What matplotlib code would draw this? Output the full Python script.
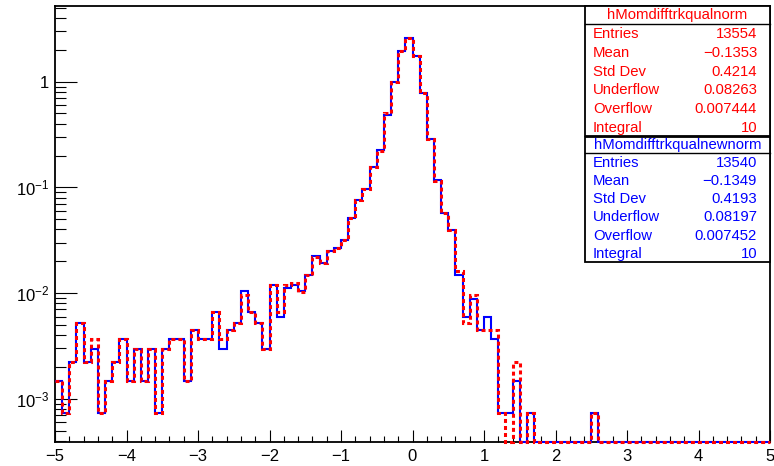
import numpy as np
import matplotlib
matplotlib.use("Agg")
import matplotlib.pyplot as plt
from matplotlib.patches import Rectangle
from matplotlib.ticker import FixedLocator, FixedFormatter, LogLocator, MultipleLocator

plt.rcParams['font.family'] = ['Liberation Sans', 'DejaVu Sans']
plt.rcParams['mathtext.fontset'] = 'custom'
plt.rcParams['mathtext.rm'] = 'Liberation Sans'
plt.rcParams['mathtext.it'] = 'Liberation Sans:italic'

# histogram binning: 100 bins from -5 to 5
x_lo, x_hi, n_bins = -5.0, 5.0, 100

# raw entries per bin (hMomdifftrkqualnorm, red)
red_counts = [
    2, 1, 3, 7, 3, 5, 1, 2, 3, 5,
    2, 4, 2, 4, 1, 4, 5, 5, 2, 6,
    5, 5, 9, 5, 6, 7, 13, 9, 7, 4,
    16, 9, 16, 17, 14, 20, 30, 26, 34, 36,
    43, 70, 102, 131, 210, 302, 690, 1350, 2620, 3500,
    2380, 1060, 385, 157, 78, 53, 22, 7, 13, 6,
    6, 6, 1, 0, 3, 0, 1, 0, 0, 0,
    0, 0, 0, 0, 0, 1, 0, 0, 0, 0,
    0, 0, 0, 0, 0, 0, 0, 0, 0, 0,
    0, 0, 0, 0, 0, 0, 0, 0, 0, 0,
]
# hMomdifftrkqualnewnorm, blue
blue_counts = [
    2, 1, 3, 7, 3, 4, 1, 2, 3, 5,
    2, 4, 2, 4, 1, 4, 5, 5, 2, 6,
    5, 5, 9, 4, 6, 7, 14, 9, 7, 4,
    16, 8, 15, 16, 14, 20, 30, 26, 34, 36,
    43, 70, 102, 131, 210, 302, 648, 1350, 2620, 3500,
    2380, 1060, 385, 157, 78, 53, 20, 8, 12, 6,
    8, 5, 1, 1, 2, 0, 1, 0, 0, 0,
    0, 0, 0, 0, 0, 1, 0, 0, 0, 0,
    0, 0, 0, 0, 0, 0, 0, 0, 0, 0,
    0, 0, 0, 0, 0, 0, 0, 0, 0, 0,
]
integral = 10.0

stat_labels = ["Entries", "Mean", "Std Dev", "Underflow", "Overflow", "Integral"]
red_name = "hMomdifftrkqualnorm"
red_stats = ["13554", "\u22120.1353", "0.4214", "0.08263", "0.007444", "10"]
blue_name = "hMomdifftrkqualnewnorm"
blue_stats = ["13540", "\u22120.1349", "0.4193", "0.08197", "0.007452", "10"]

y_ticks = [1e-3, 1e-2, 1e-1, 1]
y_ticklabels = ["$10^{-3}$", "$10^{-2}$", "$10^{-1}$", "1"]

W, H = 774, 466
ymin, ymax = 3.9e-4, 5.2


def fx(px):
    return px / W


def fy(py):
    return 1 - py / H


def main():
    fig = plt.figure(figsize=(W / 100, H / 100), dpi=100)
    ax = fig.add_axes([fx(55), fy(442), fx(770) - fx(55), fy(6) - fy(442)])

    edges = np.linspace(x_lo, x_hi, n_bins + 1)
    red = np.array(red_counts, float)
    blue = np.array(blue_counts, float)
    red = red * integral / red.sum()
    blue = blue * integral / blue.sum()
    # empty bins are drawn along the bottom of the frame, like ROOT does
    red = np.where(red > 0, red, ymin)
    blue = np.where(blue > 0, blue, ymin)

    ax.stairs(blue, edges, baseline=None, color="blue", lw=1.5, zorder=3, clip_on=False)
    ax.stairs(red, edges, baseline=None, color="red", lw=2.2,
              linestyle=(0, (1.3, 1.0)), zorder=4, clip_on=False)

    ax.set_yscale("log")
    ax.set_xlim(x_lo, x_hi)
    ax.set_ylim(ymin, ymax)

    ax.xaxis.set_major_locator(MultipleLocator(1))
    ax.xaxis.set_minor_locator(MultipleLocator(0.2))
    ax.yaxis.set_major_locator(FixedLocator(y_ticks))
    ax.yaxis.set_major_formatter(FixedFormatter(y_ticklabels))
    ax.yaxis.set_minor_locator(LogLocator(base=10, subs=np.arange(2, 10), numticks=20))
    ax.yaxis.set_minor_formatter(FixedFormatter([]))

    ax.tick_params(axis="x", which="major", direction="in", length=8.5, width=0.8,
                   labelsize=12, pad=5, top=False)
    ax.tick_params(axis="x", which="minor", direction="in", length=4, width=0.8, top=False)
    ax.tick_params(axis="y", which="major", direction="in", length=16, width=0.8,
                   labelsize=12, pad=4, right=False)
    ax.tick_params(axis="y", which="minor", direction="in", length=8, width=0.8, right=False)
    for s in ax.spines.values():
        s.set_linewidth(1.3)

    # stats boxes
    def stats_box(top, title_h, body_h, name, values, color):
        x0, x1 = 585, 770
        fig.patches.append(Rectangle((fx(x0), fy(top + title_h + body_h)), fx(x1) - fx(x0),
                                     (title_h + body_h) / H, transform=fig.transFigure,
                                     facecolor="white", edgecolor="black", lw=1.3, zorder=5))
        fig.lines.append(plt.Line2D([fx(x0), fx(x1)], [fy(top + title_h)] * 2,
                                    transform=fig.transFigure, color="black", lw=1.0, zorder=6))
        fig.text(fx((x0 + x1) / 2), fy(top + title_h / 2), name, color=color, fontsize=10.7,
                 ha="center", va="center", zorder=7)
        row_h = body_h / len(stat_labels)
        for k, (lab, val) in enumerate(zip(stat_labels, values)):
            yy = fy(top + title_h + (k + 0.55) * row_h)
            fig.text(fx(593), yy, lab, color=color, fontsize=10.7, ha="left", va="center", zorder=7)
            fig.text(fx(757), yy, val, color=color, fontsize=10.7, ha="right", va="center", zorder=7)

    stats_box(6, 18, 112, red_name, red_stats, "red")
    stats_box(137, 16, 109, blue_name, blue_stats, "blue")

    fig.savefig("out.png", dpi=100, facecolor="white")


if __name__ == "__main__":
    main()
